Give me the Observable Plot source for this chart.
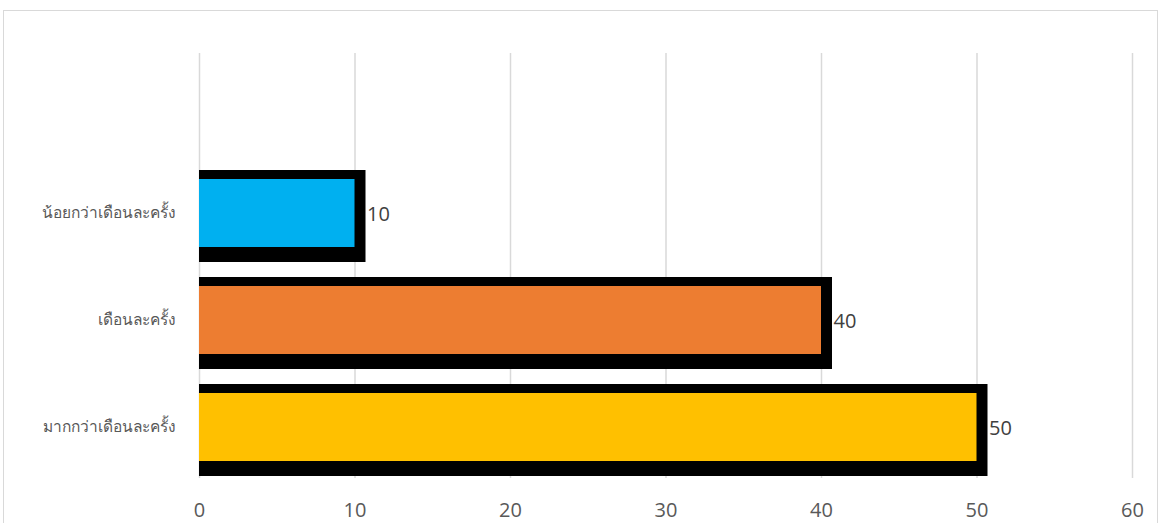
<!DOCTYPE html>
<html>
<head>
<meta charset="utf-8">
<script src="https://cdn.jsdelivr.net/npm/d3@7"></script>
<script src="https://cdn.jsdelivr.net/npm/@observablehq/plot@0.6"></script>
<style>
  html, body { margin: 0; padding: 0; background: #fff; }
  #wrap { position: relative; width: 1161px; height: 523px; overflow: hidden; }
  #frame { position: absolute; left: 3px; top: 10px; width: 1155px; height: 540px; border: 1px solid #d9d9d9; box-sizing: border-box; }
  #chart { position: absolute; left: 0; top: 0; }
</style>
</head>
<body>
<div id="wrap"><div id="frame"></div><div id="chart"></div></div>
<script>
const categories = ["น้อยกว่าเดือนละครั้ง", "เดือนละครั้ง", "มากกว่าเดือนละครั้ง"];
const values = [10, 40, 50];
const colors = ["#00b0f0", "#ed7d31", "#ffc000"];
const xTicks = [0, 10, 20, 30, 40, 50, 60];

const data = categories.map((c, i) => ({cat: c, value: values[i], color: colors[i]}));

const chart = Plot.plot({
  width: 1161,
  height: 523,
  marginLeft: 199,
  marginRight: 29,
  marginTop: 53,
  marginBottom: 45,
  style: {background: "transparent", fontFamily: "'Open Sans', 'Noto Sans', sans-serif"},
  x: {domain: [0, 60], ticks: xTicks, label: null},
  y: {domain: categories, range: [159.5, 480.5], paddingInner: 0.364, paddingOuter: 0.182, label: null},
  marks: [
    Plot.gridX(xTicks, {stroke: "#d9d9d9", strokeOpacity: 1, strokeWidth: 1.5}),
    Plot.barX(data, {y: "cat", x1: 0, x2: "value", fill: "black", insetTop: -9, insetBottom: -15, insetRight: -11}),
    Plot.barX(data, {y: "cat", x1: 0, x2: "value", fill: "color"}),
    Plot.text(data, {y: "cat", x: "value", text: d => String(d.value), textAnchor: "start", dx: 12, dy: 1, fontSize: 20, fill: "#404040"}),
    Plot.axisX({ticks: xTicks, tickSize: 0, tickPadding: 24, fontSize: 20, color: "#595959", label: null}),
    Plot.axisY({tickSize: 0, tickPadding: 24, fontSize: 15.5, color: "#595959", label: null})
  ]
});
document.getElementById("chart").appendChild(chart);
</script>
</body>
</html>
